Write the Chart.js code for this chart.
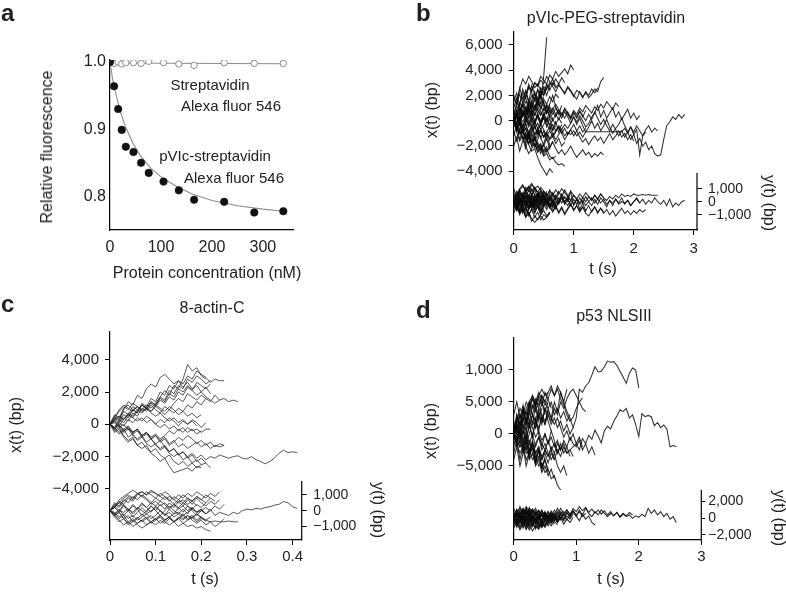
<!DOCTYPE html>
<html>
<head>
<meta charset="utf-8">
<script src="https://cdn.jsdelivr.net/npm/chart.js@4.4.0/dist/chart.umd.min.js"></script>
<style>
body { margin: 0; background: #fff; }
#fig { position: relative; width: 786px; height: 593px; overflow: hidden; font-family: "Liberation Sans", Arial, sans-serif; color: #222; }
canvas { position: absolute; }
.t { position: absolute; white-space: nowrap; line-height: 1; font-size: 16px; transform: translate(-50%, -50%); }
.s { font-size: 15px; }
.v { transform: translate(-50%, -50%) rotate(-90deg); }
.vr { transform: translate(-50%, -50%) rotate(90deg); }
.lab { position: absolute; font-weight: bold; font-size: 24px; line-height: 1; }
</style>
</head>
<body>
<div id="fig">
  <canvas id="ca" width="393" height="290" style="left:0;top:0"></canvas>
  <canvas id="cb" width="393" height="290" style="left:393px;top:0"></canvas>
  <canvas id="cc" width="393" height="303" style="left:0;top:290px"></canvas>
  <canvas id="cd" width="393" height="303" style="left:393px;top:290px"></canvas>

  <div class="lab" style="left:1px;top:1px">a</div>
  <div class="lab" style="left:416px;top:1px">b</div>
  <div class="lab" style="left:1px;top:292px">c</div>
  <div class="lab" style="left:416px;top:298px">d</div>

  <div class="t v" style="left:47px;top:147px">Relative fluorescence</div>
  <div class="t" style="left:207px;top:273px">Protein concentration (nM)</div>
  <div class="t s" style="left:210px;top:84px">Streptavidin</div>
  <div class="t s" style="left:231px;top:105px">Alexa fluor 546</div>
  <div class="t s" style="left:215px;top:155px">pVIc-streptavidin</div>
  <div class="t s" style="left:234px;top:177px">Alexa fluor 546</div>

  <div class="t" style="left:606px;top:18px">pVIc-PEG-streptavidin</div>
  <div class="t v" style="left:432px;top:110px">x(t) (bp)</div>
  <div class="t vr" style="left:769px;top:203px">y(t) (bp)</div>
  <div class="t" style="left:603px;top:269px">t (s)</div>

  <div class="t" style="left:212px;top:308px">8-actin-C</div>
  <div class="t v" style="left:16px;top:425px">x(t) (bp)</div>
  <div class="t vr" style="left:378px;top:510px">y(t) (bp)</div>
  <div class="t" style="left:205px;top:579px">t (s)</div>

  <div class="t" style="left:614px;top:316px">p53 NLSIII</div>
  <div class="t v" style="left:431px;top:431px">x(t) (bp)</div>
  <div class="t vr" style="left:779px;top:518px">y(t) (bp)</div>
  <div class="t" style="left:611px;top:579px">t (s)</div>
</div>
<script>
// ---- panel a: fluorescence quenching
const aConc = [0, 8, 16, 23, 31, 46, 61, 76, 105, 135, 165, 224, 283, 340];
const aPvic = [1.0, 0.964, 0.930, 0.899, 0.874, 0.866, 0.850, 0.835, 0.822, 0.809, 0.795, 0.792, 0.776, 0.778];
const aStrep = [0.999, 0.998, 1.0, 0.997, 0.999, 0.999, 0.998, 1.001, 0.999, 0.997, 0.995, 0.999, 0.998, 0.998];
const aFitConc = [0, 5, 10, 20, 30, 45, 60, 80, 100, 130, 160, 200, 250, 300, 340];
const aFitPvic = [1.0, 0.975, 0.957, 0.927, 0.904, 0.879, 0.860, 0.842, 0.829, 0.815, 0.804, 0.794, 0.786, 0.781, 0.778];
const aFitStrepConc = [0, 340];
const aFitStrep = [0.9985, 0.9975];
const aTicksX = [0, 100, 200, 300];
const aTicksY = [0.8, 0.9, 1.0];

// ---- shared time grids (s)
const stepTime = [0, 0.05, 0.1, 0.15, 0.2, 0.25, 0.3, 0.35, 0.4, 0.45, 0.5, 0.55, 0.6, 0.65, 0.7, 0.75, 0.8, 0.85, 0.9, 0.95,
  1, 1.05, 1.1, 1.15, 1.2, 1.25, 1.3, 1.35, 1.4, 1.45, 1.5, 1.55, 1.6, 1.65, 1.7, 1.75, 1.8, 1.85, 1.9, 1.95,
  2, 2.05, 2.1, 2.15, 2.2, 2.25, 2.3, 2.35, 2.4, 2.45, 2.5, 2.55, 2.6, 2.65, 2.7, 2.75, 2.8, 2.85];
const cTime = [0, 0.01, 0.02, 0.03, 0.04, 0.05, 0.06, 0.07, 0.08, 0.09, 0.1, 0.11, 0.12, 0.13, 0.14, 0.15, 0.16, 0.17, 0.18, 0.19,
  0.2, 0.21, 0.22, 0.23, 0.24, 0.25, 0.26, 0.27, 0.28, 0.29, 0.3, 0.31, 0.32, 0.33, 0.34, 0.35, 0.36, 0.37, 0.38, 0.39, 0.4, 0.41];

// ---- panel b: pVIc-PEG-streptavidin
const bX = [
  [0, 300, -200, 500, 900, 700, 1200, 800, 1100, 1500, 3500, 6600],
  [0, 600, 1400, 1100, 1900, 2600, 2300, 3000, 2800, 3500, 3200, 2900, 3600, 3300, 3900, 3500, 3800, 4100, 3700, 4400, 4000],
  [0, -400, 200, 800, 500, 1300, 1000, 1800, 1500, 2300, 2000, 2800, 2400, 3000, 2600, 2900, 2500, 2200, 2700, 2400, 2000, 1700, 2300, 1900, 2200, 1800, 2100, 2500, 2300, 3100, 3400],
  [0, -500, -200, -900, -600, -1200, -800, -400, -1000, -700, -1300, -900, -500, -1100, -800, -400, -700, -300, -600, -200,
   300, -100, 400, 0, -500, -200, 300, 700, 200, -300, 100, -400, -800, -300, -700, -1200, -800, -1300, -900, -1500,
   -1100, -1800, -1400, -2000, -1700, -2300, -2000, -2600, -2800, -2700, -1500, -400, -100, 300, 100, 500, 200, 500],
  [0, 400, 100, 700, 300, 900, 500, 1200, 800, 400, 900, 1300, 900, 500, 1000, 600, 200, 700, 300, -200,
   300, -300, 200, -400, -900, -500, 0, -600, -200, -800, -400, 100, -500, -1000, -600, -300, 200, -400, -900, -500,
   -1100, -700, -2700, -1200, -900],
  [0, -300, -700, -400, -1000, -1400, -1000, -1600, -1200, -800, -1300, -900, -1400, -1000, -1500, -1100, -700, -1200, -900, -1100,
   -800, -1200, -900, -1300, -870, -870, -870, -870, -870, -870, -870, -870, -870, -870, -870, -870, -870,
   -600, -1000, -500, -900, -400, -800, -1200, -700, -400, -900, -600, -800],
  [0, -600, -1000, -700, -1300, -1800, -1400, -2000, -1700, -2300, -1900, -2500, -2100, -1700, -2200, -2600, -2300, -2700, -2400, -2000, -2500, -2900, -2600, -2300, -2700, -2500, -2900, -2600, -2800, -2500, -2700],
  [0, -500, -1000, -800, -1500, -1300, -2000, -1800, -2500, -2200, -2800, -2600, -3100, -2900, -3300, -3500, -3400, -3600],
  [0, -400, -900, -1400, -1200, -1900, -2400, -2200, -2900, -3500, -3900, -4300, -3800, -4100],
  [0, 500, 1000, 800, 1500, 1300, 2000, 1700, 2400, 2100, 2700, 2500, 3000, 2700, 2300, 2800, 2500, 2100, 2600, 2300, 1900, 2400, 2200, 1800, 2300, 2000, 2500, 2200, 2600],
  [0, 300, -200, -700, -300, -900, -500, -1100, -800, -300, -700, -1200, -800, -1300, -900, -500, -1000, -1500, -1100, -700, -1200, -800, -1300, -1700, -1400, -1900, -1500, -1200, -1600, -1300, -1800, -1400, -1000, -1500, -1200, -800, -1300, -1000, -1500, -1100, -1600],
  [0, 800, 400, 1200, 900, 1600, 1300, 2100, 1800, 2600, 2200, 2900, 2500],
  [0, -600, -200, -900, -1300, -900, -1700, -1300, -2100, -1800, -2400, -2000],
  [0, 400, 900, 500, 1100, 700, 1300, 900, 1500, 1100, 800, 1200, 700, 1000, 500, 900],
  [0, -300, 200, -400, 100, -500, 0, -600, -200, -700, -300, 200, -300, -800, -400],
  [0, 300, -200, 400, 900, 500, 1200, 800, 1400, 1000, 1700, 1300, 1900, 1500, 2100, 1800],
  [0, -700, -300, -1000, -600, -1300, -900, -500, -1100, -700, -1300, -1000, -1500, -1200, -1800, -1400, -2000, -1700],
  [0, 500, 100, 600, 200, -300, 200, -200, 400, 0, 500, 100, -400, 100, -300, 200, -200],
  [0, 900, 1400, 2200, 1800, 2700, 2400, 3000, 2700, 3200, 2900, 3500, 3100, 2800, 3300, 2900, 3400, 3000],
  [0, 1500, 2500, 3300, 2900, 3500, 3100, 2600, 2900, 2400, 2000, 2500],
  [0, -900, -1600, -1200, -2000, -2600, -2200, -1800, -2400, -2000, -2700, -2300, -1900],
  [0, 200, 700, 300, 800, 1300, 900, 400, 900, 500, 1000, 600, 1100, 700, 300, 800, 400, 900, 500, 100, 600, 200, 700, 300, 800],
  [0, -200, 300, -100, 400, 0, -500, -100, -600, -200, 200, -300, -700, -300, -800, -500, -1000, -600, -1100, -700, -300, -800, -400, -900, -600],
  [0, 600, 200, 800, 400, 1000, 1500, 1100, 1700, 1300, 1900],
  [0, -400, -1000, -700, -1400, -1100, -1700, -1400, -2200, -1900, -2500, -2200, -2800, -3000, -2800],
  [0, 400, 0, -500, -100, 400, 0, 600, 200, -200, 300, -100, 400, 0, 500, 100, 600, 200, 700, 300, 800, 500, 1000, 700, 1200, 900, 600, 1100, 800, 1300, 1000, 1500, 1200, 900, 1400, 1100],
  [0, 300, -100, 400, 800, 400, 900, 500, 1100, 700, 300, 800, 400, 900, 1300, 900, 500, 1000, 600, 200,
   700, 300, 800, 400, 0, 500, 100, 600, 1200, 300, 800, 200, 600, 1000, 300, 700, 100, 500, 900, 200, 600, 100, 400],
  [1500, 2200, 1200, 2500, 1800, 900, 1600, 2300, 1400, 2000, 1100],
  [-1200, -400, -1500, -700, -1800, -1000, -300, -1100, -600, -1400, -800, -1600],
  [800, -200, 600, 1400, 500, 1100, 300, 1000, 1700, 900, 1500, 600, 1300],
  [-500, 400, -300, 700, -100, 900, 200, -400, 500, -200, 600, 0, 800, 100],
  [2000, 1200, 2600, 1700, 2300, 1400, 2800, 2100, 1500, 2400],
  [300, -600, 100, -900, -200, -1200, -500, -1500, -700, -1300, -2000, -1400, -2200, -1600],
  [-2000, -1300, -2400, -1600, -1000, -1800, -1100, -2100, -1500, -800],
  [1000, 1800, 700, 1500, 2400, 1600, 900, 1700, 1200, 2100, 1400, 600, 1300, 2000, 1100, 500, 1200],
  [-300, 500, 1200, 400, 1000, 200, 800, -100, 600, -300, 400, 1100, 300],
  [-800, -1600, -600, -1400, -2200, -1300, -2000, -1200, -1900, -2600, -1800, -1100, -1900],
  [500, 1300, 2100, 1400, 2000, 2900, 2200, 1600, 2500, 1800, 2600, 2000, 2800, 3300, 2700],
  [0, -800, 200, -600, 400, -300, 700, -100, 500, -400, 300, -500, 200, -700, -100, -900, -300]
];
const bY = [
  [0, 300, -200, 400, -100, 500, 0, -400, 100, -300, 300, -200, 400, 0, -500, 0, 400, -100, 300, -300,
   200, -200, 300, -100, 400, 0, -300, 200, -200, 300, 0, -400, 100, -300, 200, -100, 300, -200, 100, -300,
   0, 300, -100, 200, -200, 100, -100, 300, 0, -200, 100, -300, 200, -400, -100, -300, 0, 100],
  [0, -200, 300, -100, 400, 100, 600, 200, 700, 300, -100, 400, 0, 500, 100, -200, 300, 0, 400, 100,
   500, 200, -100, 300, 0, 400, 100, 500, 200, 600, 300, 100, 400, 200, 500, 300, 600, 400, 500, 400,
   600, 500, 500, 550, 500, 550, 500, 500, 500],
  [0, -300, 100, -400, 0, -500, -100, -600, -200, -700, -300, 100, -400, -800, -400, -900, -500, -1000, -600, -200,
   -700, -300, -800, -400, -900, -1100, -700, -400, -800, -500, -900, -600, -1000, -700, -1100, -800, -500, -900, -700, -1000,
   -700, -900, -600, -800, -600],
  [0, 200, -300, 100, -400, 0, -500, -100, 400, 0, 500, 100, 600, 200, -200, 300, -100, 400, 0, 800, -300, 200, -600, -100, -700, -300, -800, -400, -900, -500, -800],
  [0, -500, -900, -600, -1200, -900, -1500, -1100, -1400, -1000, -700, -1100, -800],
  [0, 400, 800, 500, 1100, 800, 1300, 1000, 700, 1100, 800, 400, 800, 500, 900, 600, 1000, 700, 400, 800, 500],
  [0, -300, 200, -400, 100, -500, 0, 400, -100, 300, -200, 200, -300, 100, -400, 0],
  [0, 300, -100, 400, 0, 500, 100, -300, 200, -200, 300, -100, 400, 0, 500, 100, 600, 200],
  [0, -600, -200, -800, -400, -1000, -600, -1200, -800, -1400, -1000, -1200, -800],
  [0, 500, 100, 700, 300, 900, 500, 1100, 700, 300, 800, 400, 900, 500, 200, 600],
  [0, -200, -700, -300, -900, -500, -100, -600, -200, -700, -300, 200, -300, -700, -300, -800, -400, -900, -500, -200, -600, -300, -700, -400, -800],
  [0, 200, 600, 200, 700, 300, -100, 400, 0, 500, 100, 600, 200, 700, 300, 800, 400, 900, 500, 100, 500, 200, 600, 300, 700, 400, 100, 500, 200, 600, 300],
  [0, -400, 0, -500, -100, -600, -200, 200, -300, 100, -400, 0, -500, -100, -600],
  [0, 600, 1000, 1300, 900, 1200, 800, 1100, 700, 400, 800, 500],
  [0, -100, 400, 0, 500, 100, -300, 100, -400, 0, 400, 0, -400, 0, 300, -100, 300, -200, 200, -300],
  [0, -300, -800, -500, -1100, -800, -1300, -1600, -1300, -1100, -1400, -1200, -900],
  [0, 300, -200, 200, -300, 100, -400, 0, 400, 0, 500, 100, -300, 100, -400, 0, 400, 0, -300, 100,
   -200, 200, -200, 100, -300, 0, 300, -100, 200, -100, 200, -200, 100, -100, 200, -200, 0, -100, 100, -300, 0, 200, -100],
  [0, 500, 900, 1200, 800, 1100, 1400, 1000, 1200, 900, 600],
  [300, -400, 200, -600, 100, -500, 300, -300, 500, -100, 400],
  [-600, 0, -800, -200, -700, 100, -500, 200, -400, -900, -300],
  [700, 100, 900, 300, 800, 0, 600, -200, 400, 900, 300, 700],
  [-200, 500, -100, 600, 0, -400, 300, -500, 200, -300, 500, -200, 300, -400],
  [1000, 400, 800, 200, 700, 1100, 500, 900, 300, 800],
  [-900, -300, -1000, -500, -1200, -600, -200, -800, -400, -1000, -500],
  [200, 800, 300, -200, 400, -300, 500, 0, 700, 100, 600, -100, 400, -300, 200],
  [-400, 300, -600, 100, -300, 400, -200, 600, 0, -500, 100, -400, 300],
  [500, -100, 600, 200, 900, 400, 1000, 500, 200, 700, 300, 800],
  [-100, -700, -200, -900, -400, -1100, -500, -900, -300, -700, -200, -600, -100, -500, 0]
];
const bTicksX = [0, 1, 2, 3];
const bTicksLeft = [6000, 4000, 2000, 0, -2000, -4000];
const bTicksRight = [1000, 0, -1000];

// ---- panel c: 8-actin-C
const cX = [
  [0, 200, -100, 300, 600, 400, 800, 1200, 900, 1400, 1200, 1700, 2100, 1800, 2400, 2200, 2800, 3700, 3300, 3500, 3000, 2800],
  [0, -200, 300, 100, 500, 900, 700, 1300, 1100, 1600, 1400, 2000, 1800, 2400, 2200, 2700, 2500, 3000, 2800, 3300, 3100, 2900, 2600, 2800, 2700, 2700],
  [0, 500, 300, 900, 1400, 1200, 1800, 1600, 2200, 2500, 2300, 2900, 3100, 2800, 2500, 2700, 2300, 2600, 2200, 2400, 2000, 2300, 1900],
  [0, 300, 100, 600, 400, 900, 700, 1200, 1000, 1400, 1200, 1600, 1400, 1900, 1700, 2200, 2000, 2400, 2100, 1800, 2000, 1700, 1500, 1300, 1500, 1600, 1400, 1500, 1400],
  [0, -300, 100, 400, 200, 700, 500, 1000, 800, 1200, 900, 700, 1100, 900, 1300, 1600, 1400, 1900, 1700, 1500, 1800, 1600],
  [0, 600, 400, 1000, 1200, 900, 1100, 800, 1000, 1300, 1100, 1500, 1300, 1700, 1500, 2000, 1800, 2300, 2100, 2600, 2400, 2200, 2500],
  [0, 200, 500, 300, 700, 500, 900, 1200, 1000, 800, 1100, 900, 600, 900, 700, 1000, 800, 1200, 1000, 1400, 1200, 1600, 1400, 1800, 1500],
  [0, -200, 100, -100, 300, 100, 400, 200, 500, 300, 0, 300, 100, 400, 200, -100, 200, 0, 300, 100, -200, 100],
  [0, 300, 900, 1200, 1000, 800, 1100, 900, 1200, 1000, 1300, 1700, 1500, 2100, 1900, 2400, 2200, 2800, 2600, 3000, 2800, 2500, 2700],
  [0, -200, -500, -300, -800, -600, -1000, -800, -1200, -1400, -1200, -1600, -1400, -1800, -2000, -1800, -2200, -2000, -2400, -2200, -2500, -2400, -2700],
  [0, -400, -200, -700, -1000, -800, -1300, -1500, -1300, -1800, -2000, -2300, -2100, -2600, -3000, -2900, -2800, -2700, -2900, -2600, -2700],
  [0, -300, -100, -500, -300, -700, -900, -700, -1100, -900, -1300, -1500, -1300, -1700, -1500, -1900, -1700, -2000, -1800, -2100,
   -1900, -2200, -2000, -2100, -1900, -2000, -2100, -2000, -1950, -2100, -2150, -2000, -2200, -2300, -2450, -2300, -2100, -1800, -1600, -1750, -1700, -1750],
  [0, -200, 0, -400, -200, -600, -400, -800, -600, -900, -700, -1000, -800, -1200, -1000, -1400, -1200, -1500, -1300, -1100, -1400, -1200, -1500, -1300, -1400, -1300],
  [0, 200, -100, -300, -100, -500, -300, -700, -500, -800, -600, -900, -700, -400, -600, -300, -500, -200, -400, -300, -500, -300, -300],
  [0, -500, -300, -800, -1100, -900, -1300, -1100, -1500, -1700, -1500, -1900, -2100, -1900, -2300, -2500, -2300, -2600, -2400, -2700, -2500],
  [0, 100, -200, 0, -300, -500, -300, -700, -500, -900, -700, -1100, -900, -1300, -1100, -800, -1000, -700, -900, -1200, -1000, -1300, -1100, -1400, -1200, -1300],
  [0, 300, 500, 300, 600, 400, 200, 400, 100, 300, 0, -200, 0, -300, -100, -400, -200, -500, -300, -600, -400],
  [0, -300, -600, -400, -200, -500, -300, -700, -500, -900, -1200, -1000, -1400, -1700, -1500, -1900, -1700, -2100, -1900, -2300, -2100, -2400],
  [0, 400, 200, 800, 600, 1100, 900, 700, 1000, 800, 1200, 1000, 800, 1100, 900, 600, 800, 500, 700, 400, 600],
  [0, 500, 800, 1100, 900, 1300, 1100, 800, 1000, 700, 500, 700, 400, 200, 400, 100, 300, 0, 200, -100]
];
const cY = [
  [0, 200, -100, 300, 0, 400, 100, 500, 200, -100, 300, 0, -300, 100, -200, 200, -100, 300, 0, -300,
   0, -200, 100, -300, -100, -200, -300, -100, -200, 0, 100, 50, 150, 100, 200, 250, 350, 400, 580, 500, 250, 150],
  [0, -200, -500, -300, -700, -500, -800, -600, -400, -700, -500, -300, -600, -400, -700, -500, -800, -600, -400, -700, -500, -600, -700, -650, -700, -700, -650, -700, -700],
  [0, -300, -100, -500, -300, -700, -500, -200, -500, -300, -600, -400, -700, -900, -700, -1000, -800, -1000, -900, -1100, -1000, -1200, -1300],
  [0, 400, 200, 600, 900, 700, 1100, 900, 1200, 1000, 800, 1100, 900, 600, 900, 700, 1000, 800, 600, 900, 700, 500, 800, 600],
  [0, 300, 600, 400, 800, 600, 1000, 1200, 1000, 1300, 1100, 900, 1200, 1000, 700, 1000, 800, 1100, 900, 1200, 1000, 800, 1100, 900, 1200],
  [0, -200, 100, -300, 0, -400, -100, 200, -100, 300, 0, -300, 0, 300, 0, -200, 100, -200, 200, -100, 100, -200],
  [0, 300, 0, 400, 100, -200, 100, -300, 0, 300, 0, 400, 100, 500, 200, 600, 300, 700, 400, 800, 500, 300, 600, 400, 700],
  [0, -400, -700, -500, -900, -700, -400, -700, -500, -800, -600, -300, -600, -400, -700, -500, -200, -500, -300, -600, -400, -700],
  [0, 500, 300, 700, 500, 900, 700, 1000, 800, 500, 800, 600, 900, 700, 400, 700, 500, 800, 600, 900, 700, 1000, 800],
  [0, -100, -400, -200, -500, -300, -600, -400, -200, -500, -300, 0, -300, -100, -400, -200, -500, -300, -600, -800, -600, -900, -700, -1000, -800, -500],
  [0, 200, 500, 300, 0, 300, 100, 400, 200, 500, 300, 600, 400, 100, 400, 200, 500, 300, 100, 400, 200, 500],
  [0, -300, -600, -900, -700, -1000, -800, -600, -900, -700, -500, -800, -600, -400, -700, -500, -300, -600, -400, -200, -500],
  [0, 300, 500, 800, 1000, 800, 1100, 900, 700, 400, 600, 300, 500, 200, 400, 100, 300, 0, 200, -100, 100, -200, 0],
  [0, -200, 0, -100, 100, -100, 200, 0, -200, 0, 200, 0, -200, -400, -200, -100, -300, -100, 100, -100, 0, 200, 0, 300, 100, 400],
  [0, 200, 700, 900, 1100, 1300, 1100, 1200, 1000, 1200, 1100, 900, 700, 900, 700, 500, 700, 400, 600, 300],
  [0, -300, -100, -500, -800, -600, -900, -1100, -900, -700, -900, -600, -800, -500, -700, -400, -600, -300, -500, -200, -400, -600, -400]
];
const cTicksX = [0, 0.1, 0.2, 0.3, 0.4];
const cTicksLeft = [4000, 2000, 0, -2000, -4000];
const cTicksRight = [1000, 0, -1000];

// ---- panel d: p53 NLSIII
const dX = [
  [0, 1500, -500, 2000, 3500, 2000, 4500, 3500, 5500, 4500, 6500, 5500, 7000, 6000, 7500, 6500, 5000, 3500, 2500, 1000,
   2500, 7000, 6500, 7500, 8000, 9200, 10500, 9700, 9800, 10500, 11400, 11200, 11300, 10700, 9800, 8900, 7900, 9500, 10300, 10000, 7200],
  [0, -1500, 500, -2000, -500, -3000, -1500, -3500, -2500, -4000, -3000, -4500, -3000, -4000, -2500, -3500, -2000, -3000, -2500, -2000,
   -1500, -2500, -700, -1500, -200, -800, 600, -300, -1400, 500, 1200, 800, 2000, 2800, 3800, 3500, 4000, 2500, 3000, 1500,
   -400, 3200, 2700, 2900, 2700, 1300, 1800, 1000, 1400, 800, -2000, -1800, -2000],
  [0, -1000, 500, -1500, 0, -2500, -1000, -3000, -2000, -4000, -2500, -3500, -2000, -3000, -1500, -2500, -1000, -2000, -500, -1500, -2000, -1000, -2500, -1500, -3000, -2000, -3300],
  [0, 2000, 500, 3000, 1500, 4000, 3000, 5000, 4000, 6000, 5000, 6500, 7500, 6000, 7000, 5500, 4500, 3000, 2000, 2600, 4000, 5000, 5600],
  [0, -1000, -2000, -1500, -3000, -2500, -4000, -3500, -5000, -4500, -6000, -5500, -7000, -6500, -8000, -8750],
  [0, 2000, 4000, 3000, 5000, 4000, 6000, 5000, 6500, 5500, 4500, 5500, 4000],
  [0, -2000, -1000, -3000, -2000, -4000, -3000, -5000, -4000, -6000, -5000, -6500, -5500, -7000],
  [0, 1000, -1000, 500, -1500, 0, 2000, 1000, 3000, 2000, 4000, 3000, 1500, 2500, 1000, 2000, 500, 1500, 0, 1000],
  [0, -1500, -3000, -2000, -4000, -3000, -1500, -3000, -2000, -3500, -2500, -1000, -2500, -1500, -3000, -2000],
  [0, 3000, 1500, 4000, 3000, 5000, 6000, 4500, 6000, 5000, 3500, 5000],
  [0, 500, 2000, 1000, 2500, 1500, 3000, 2000, 1000, 2500, 1500, 3000, 2000, 4000, 3000, 5000, 4000, 5500, 6500, 7000, 6000, 5000, 4000, 3500],
  [0, -500, -2000, -1000, -2500, -1500, -3000, -4500, -3500, -5000, -4000, -5500],
  [0, 1000, 0, 1500, 500, 2000, 1000, -500, 500, -1000, 0, -1500, -500, -2000, -1000, -2500, -1500, -3000, -2500, -3500],
  [0, -1000, 1000, 0, 2000, 1000, 3000, 2000, 4000, 3000, 2000, 3500, 2500, 1500, 2500, 1000, -500, 500, -1000, 0, -1500, -500, -2000],
  [0, 1500, 500, -500, -2000, -1000, -2500, -1500, -500, -1500, -2500, -3500, -2500, -4000],
  [0, 2500, 1000, 3500, 2000, 4500, 5500, 4500, 6000, 7000, 6000, 6500],
  [0, -500, 1000, -1000, 500, -1500, 0, -2000, -500, -2500, -1500, -3000, -4000, -3000, -5000, -6000, -5000, -6500],
  [0, 2000, 3000, 2000, 4000, 5000, 4000, 5500, 4500, 6000, 5000, 4000, 5000, 3000, 4000, 2500, 3500, 2000, 3000],
  [3000, 5000, 2500, 4500, 1500, 3500, 5500, 4000, 2000, 4000],
  [-3000, -1000, -4000, -2000, -5000, -3000, -1500, -4000, -2500],
  [1000, -1500, 500, -2500, -500, -3500, -1500, -4500, -2500, -5500, -4000, -6000],
  [-1000, 1500, -500, 2500, 500, 3500, 1500, 4500, 2500, 5000, 3000],
  [2000, 0, 3000, 1000, -1000, 1500, -500, 2500, 500, 3000, 1500, 4000, 2500, 5000, 3500, 6500, 5000, 7000],
  [-4000, -2000, -5000, -3000, -1000, -3500, -1500, -4500, -2500, -5500, -3500],
  [500, 3000, 1000, 4000, 2000, 5000, 3000, 1000, 3500, 1500, 4000, 2000, 500],
  [-2000, 500, -1500, 1000, -1000, 1500, -500, 2000, 0, -2000, 0, -1500, 500, -1000, -3000, -1500, -3000, -2000, -3500]
];
const dY = [
  [0, 600, -400, 800, -200, 1000, 0, -800, 200, -600, 400, -400, 600, -200, 800, 0, 600, -200, 400, 800,
   200, 1000, 400, 1200, 600, 200, 800, 400, 1000, 600, 200, 600, 300, 700, 100, 500, 200, 400, 0, 300,
   100, 500, 200, 1200, 600, 1000, 400, 800, 200, 600, -100, 200, -500],
  [0, -500, 500, -300, 700, 0, 900, 300, -300, 500, 0, 800, 200, 1000, 400, 1200, 600, 1000, 400, 1200,
   800, 1400, 900, 1300, 700, 1100, 600, 1000, 500, 900, 400, 800, 300, 700, 200, 600, 300, 700, 400],
  [0, 400, -600, 200, -800, 0, -1000, -200, -1200, -400, -900, 200, -500, 300, -300, 500, -100, 700, 100, 900, 300, -300, 500, -100, 300, -500, -800],
  [0, -700, 300, -900, 100, -1100, -300, -1300, -500, -1100, -300, -900, -100, -700],
  [0, 800, 200, 1100, 400, 1300, 600, 1200, 400, 1000, 200, 800, 0, 600, -200],
  [0, -300, 600, -200, 700, -400, 500, -600, 300, -800, 100, -600, 200, -400, 400, -200, 600],
  [0, 500, -500, 300, -700, 100, -900, -100, -1200, -300, -900, 0, -600, 300, -300, 500, -100, 700, 200, 800],
  [0, -900, -200, -1200, -500, -1400, -700, -1100, -300, -900, -100, -600],
  [0, 1000, 300, 1200, 500, 900, 100, 700, -100, 500, -300, 400, -200, 600, 0, 800, 300, 1000, 500, 900, 400, 800, 200, 600],
  [0, -400, 400, -600, 200, -800, 0, -500, 300, -300, 500, -100, 700, 100, -500, 100, -300, 300, -100, 500],
  [0, 700, 1200, 600, 1400, 800, 1100, 500, 900, 300, 700, 100, 500],
  [0, -600, -1200, -500, -1300, -700, -1500, -900, -1300, -600, -1100, -400, -900, -300, -800],
  [0, 300, -300, 500, -500, 700, -300, 900, 100, 700, -100, 500, -300, 300, -500, 100, -700, -100, -500, 100],
  [0, -200, 700, 100, 900, 300, 1100, 500, 900, 200, 600, 0, 400, -200, 300],
  [800, -200, 1000, 0, 1200, 300, -300, 600, -100, 900, 200],
  [-800, 200, -1000, -100, -1300, -400, 300, -600, 100, -900],
  [300, 1100, 100, 900, -200, 700, -400, 500, 1000, 300, 800, 0],
  [-300, -1100, -200, -900, 100, -700, 200, -500, 400, -300, 600, -100, 500],
  [1200, 400, 1400, 600, 1100, 200, 900, -100, 700, 200],
  [-1200, -300, -1400, -600, -1000, -200, -800, 0, -600, -1100, -400],
  [0, 700, -300, 900, -100, 1100, 200, -400, 500, -200, 700, 0, 900, 300, 1200, 500, 900],
  [500, -500, 700, -300, 900, -100, -700, 100, -900, -200, 500, -400, 300]
];
const dTicksX = [0, 1, 2, 3];
const dTicksLeft = [10000, 5000, 0, -5000];
const dLeftLabels = ['1,000', '5,000', '0', '\u22125,000'];
const dTicksRight = [2000, 0, -2000];

// ---- helpers
Chart.defaults.font.family = '"Liberation Sans", Arial, sans-serif';
Chart.defaults.color = '#222';

function pairs(xs, ys) {
  return xs.map((x, i) => ({x: x, y: ys[i]}));
}
function setTicks(vals) {
  return s => { s.ticks = vals.map(v => ({value: v})); };
}
function fmt(v) {
  const s = Math.abs(v).toLocaleString('en-US');
  return v < 0 ? '\u2212' + s : s;
}
function traceSets(T, traces, axis, lw, col) {
  return traces.map(vals => ({
    yAxisID: axis,
    data: vals.slice(0, T.length).map((v, i) => ({x: T[i], y: v})),
    borderColor: col,
    borderWidth: lw,
    pointRadius: 0,
    tension: 0,
    fill: false
  }));
}

// right-hand y(t) axis only covers the lower strip
const rightAxisLine = {
  id: 'rightAxisLine',
  afterDraw(chart, args, opts) {
    const s = chart.scales.yb;
    if (!s) return;
    const ctx = chart.ctx;
    ctx.save();
    ctx.strokeStyle = '#000';
    ctx.lineWidth = 1.2;
    ctx.beginPath();
    ctx.moveTo(s.left, s.getPixelForValue(opts.from));
    ctx.lineTo(s.left, chart.chartArea.bottom + 0.6);
    ctx.stroke();
    ctx.restore();
  }
};

const axisGrid = {drawOnChartArea: false, color: '#000', tickLength: 5, lineWidth: 1};
const axisBorder = {color: '#000', width: 1.2};

// ---- panel a
new Chart(document.getElementById('ca'), {
  type: 'scatter',
  data: {
    datasets: [
      {data: pairs(aConc, aPvic), pointRadius: 3.8, backgroundColor: '#111', borderColor: '#111', borderWidth: 0.5},
      {data: pairs(aConc, aStrep), pointRadius: 3.2, backgroundColor: '#fff', borderColor: '#8c8c8c', borderWidth: 1},
      {data: pairs(aFitConc, aFitPvic), showLine: true, pointRadius: 0, borderColor: '#8c8c8c', borderWidth: 1.1},
      {data: pairs(aFitStrepConc, aFitStrep), showLine: true, pointRadius: 0, borderColor: '#8c8c8c', borderWidth: 1.1}
    ]
  },
  options: {
    responsive: false, animation: false, events: [],
    layout: {padding: {left: 0, top: 60, right: 100, bottom: 0}},
    plugins: {legend: {display: false}, tooltip: {enabled: false}},
    scales: {
      x: {
        type: 'linear', min: 0, max: 359,
        afterBuildTicks: setTicks(aTicksX),
        afterFit: s => { s.height = 60; },
        ticks: {font: {size: 16}, color: '#222', padding: 8, maxRotation: 0, autoSkip: false},
        grid: {display: false, drawTicks: false},
        border: axisBorder
      },
      y: {
        min: 0.75, max: 1.003,
        afterBuildTicks: setTicks(aTicksY),
        afterFit: s => { s.width = 110; },
        ticks: {font: {size: 16}, color: '#222', padding: 4, autoSkip: false, callback: v => v.toFixed(1)},
        grid: {display: false, drawTicks: false},
        border: axisBorder
      }
    }
  }
});

// ---- panels b, c, d
function traceChart(id, o) {
  const col = o.color || 'rgba(10,10,10,0.85)';
  return new Chart(document.getElementById(id), {
    type: 'line',
    data: {datasets: traceSets(o.T, o.top, 'yx', o.lw, col).concat(traceSets(o.T, o.bottom, 'yb', o.lw, col))},
    options: {
      responsive: false, animation: false, events: [],
      layout: {padding: o.pad},
      plugins: {legend: {display: false}, tooltip: {enabled: false}, rightAxisLine: {from: o.rightFrom}},
      scales: {
        x: {
          type: 'linear', min: 0, max: o.xMax,
          afterBuildTicks: setTicks(o.xTicks),
          afterFit: s => { s.height = o.xH; },
          ticks: {font: {size: 15}, color: '#222', padding: o.xPad, maxRotation: 0, autoSkip: false},
          grid: axisGrid, border: axisBorder
        },
        yx: {
          position: 'left', min: o.leftMin, max: o.leftMax,
          afterBuildTicks: setTicks(o.leftTicks),
          afterFit: s => { s.width = o.leftW; },
          ticks: {font: {size: 15}, color: '#222', padding: 6, autoSkip: false, callback: o.leftLabel || fmt},
          grid: axisGrid, border: axisBorder
        },
        yb: {
          position: 'right', min: o.rightMin, max: o.rightMax,
          afterBuildTicks: setTicks(o.rightTicks),
          afterFit: s => { s.width = 60; },
          ticks: {font: {size: 14}, color: '#222', padding: o.rightPad, autoSkip: false, callback: fmt},
          grid: {drawOnChartArea: false, color: '#000', tickLength: o.rightTick, lineWidth: 1},
          border: {display: false}
        }
      }
    },
    plugins: [rightAxisLine]
  });
}

traceChart('cb', {
  T: stepTime, top: bX, bottom: bY, lw: 1.05,
  pad: {left: 0, top: 32, right: 29, bottom: 0},
  xMax: 3.055, xTicks: bTicksX, xH: 60, xPad: 5,
  leftMin: -8640, leftMax: 7010, leftTicks: bTicksLeft, leftW: 120.7,
  rightMin: -2177, rightMax: 13054, rightTicks: bTicksRight, rightFrom: 2200, rightPad: 6, rightTick: 5
});

traceChart('cc', {
  T: cTime, top: cX, bottom: cY, lw: 0.9, color: 'rgba(35,35,35,0.85)',
  pad: {left: 0, top: 41.7, right: 31.3, bottom: 0},
  xMax: 0.42, xTicks: cTicksX, xH: 53, xPad: 3,
  leftMin: -7164, leftMax: 5734, leftTicks: cTicksLeft, leftW: 110,
  rightMin: -1854, rightMax: 11329, rightTicks: cTicksRight, rightFrom: 1880, rightPad: 6.5, rightTick: 5
});

traceChart('cd', {
  T: stepTime, top: dX, bottom: dY, lw: 1.05,
  pad: {left: 0, top: 48, right: 24.7, bottom: 0},
  xMax: 3.0, xTicks: dTicksX, xH: 53, xPad: 3,
  leftMin: -16563, leftMax: 15000, leftTicks: dTicksLeft, leftW: 120.7,
  leftLabel: v => dLeftLabels[dTicksLeft.indexOf(v)],
  rightMin: -2604, rightMax: 21640, rightTicks: dTicksRight, rightFrom: 3400, rightPad: 3, rightTick: 4
});
</script>
</body>
</html>
